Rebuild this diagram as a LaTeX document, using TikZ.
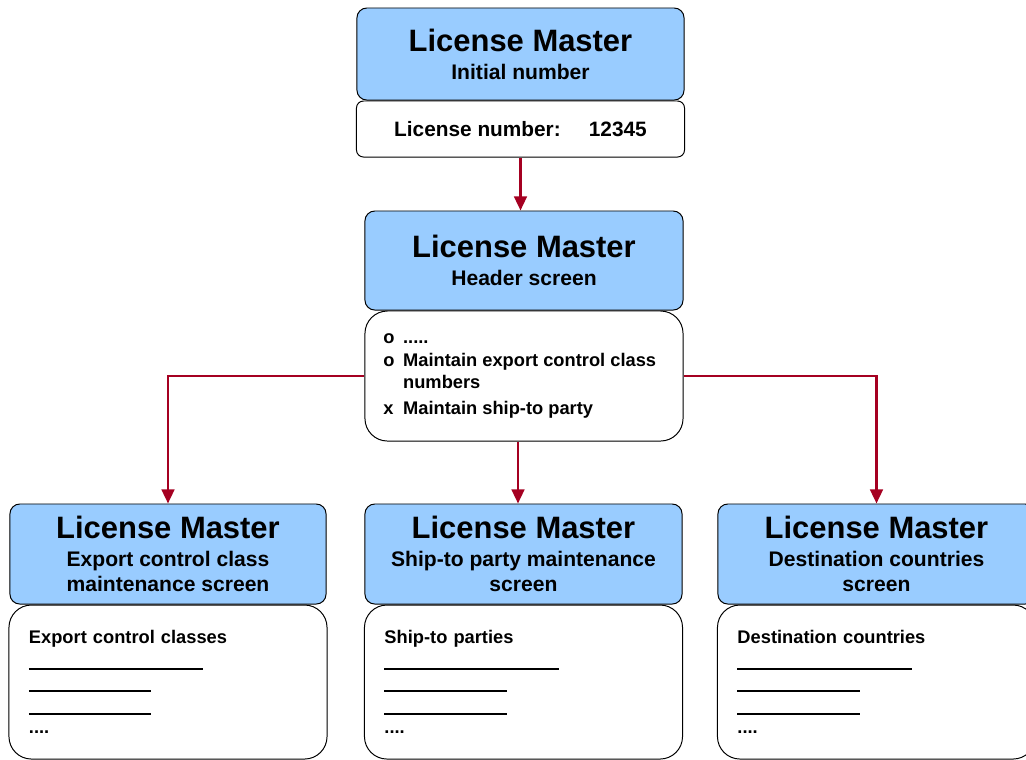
\documentclass[tikz,border=0pt]{standalone}
\usepackage{fontspec}
\setmainfont{Liberation Sans}
\usetikzlibrary{shapes,arrows.meta,positioning,calc}
\definecolor{screenblue}{RGB}{153,204,255}
\definecolor{linkred}{RGB}{165,0,33}
\tikzstyle{screen} = [rectangle, rounded corners=7pt, draw=black, line width=0.7pt, fill=screenblue, align=center, inner sep=0pt, font=\bfseries\fontsize{15}{18}\selectfont]
\tikzstyle{field} = [rectangle, rounded corners=5pt, draw=black, line width=0.7pt, fill=white, inner sep=0pt, font=\bfseries\fontsize{14.8}{17}\selectfont]
\tikzstyle{menu} = [rectangle, rounded corners=16pt, draw=black, line width=0.7pt, fill=white, align=left, inner sep=0pt, font=\bfseries\fontsize{13}{16}\selectfont]
\tikzstyle{list} = [rectangle, rounded corners=16pt, draw=black, line width=0.7pt, fill=white, align=left, text width=6.95cm, inner xsep=0.5cm, inner ysep=0pt, minimum width=7.95cm, minimum height=3.85cm, font=\bfseries\fontsize{13}{16}\selectfont]
\tikzstyle{arrow} = [line width=1.8pt, color=linkred, -{Triangle[length=10pt,width=9pt]}]
\newcommand{\lmtitle}{{\fontsize{22}{22}\selectfont License Master}}
\newcommand{\itemmark}[1]{\makebox[14pt][l]{#1}}
\newcommand{\longrule}{\rule[-2.5pt]{124pt}{1.3pt}}
\newcommand{\shortrule}{\rule[-2.5pt]{87pt}{1.3pt}}

\begin{document}
\begin{tikzpicture}[x=0.025cm, y=-0.025cm]
\useasboundingbox (0,0) rectangle (1026,759);

% Initial number
\node [screen, minimum width=8.175cm, minimum height=2.3cm] (init) at (520.5,54) {\lmtitle\\[2pt] Initial number};
\node [field, minimum width=8.2cm, minimum height=1.4cm, below=0pt of init] (number) {License number:\hspace{20pt}12345};

% Header screen
\node [screen, minimum width=7.95cm, minimum height=2.475cm] (header) at (524,260.5) {\lmtitle\\[2pt] Header screen};
\node [menu, minimum width=7.95cm, minimum height=3.25cm, below=0pt of header] (options) {\hspace*{-6pt}\itemmark{o}.....\\ \hspace*{-6pt}\itemmark{o}Maintain export control class\\ \hspace*{-6pt}\itemmark{}numbers\\[2pt] \hspace*{-6pt}\itemmark{x}Maintain ship-to party};

% Maintenance screens
\node [screen, minimum width=7.9cm, minimum height=2.5cm] (ecBlue) at (168,554) {\lmtitle\\[2pt] Export control class\\ maintenance screen};
\node [list, below=0pt of ecBlue] (ecList) {Export control classes\\ \longrule\\ \shortrule\\ \shortrule\\ ....};

\node [screen, minimum width=7.925cm, minimum height=2.5cm] (stBlue) at (523.5,554) {\lmtitle\\[2pt] Ship-to party maintenance\\ screen};
\node [list, below=0pt of stBlue] (stList) {Ship-to parties\\ \longrule\\ \shortrule\\ \shortrule\\ ....};

\node [screen, minimum width=7.925cm, minimum height=2.5cm] (dcBlue) at (876.5,554) {\lmtitle\\[2pt] Destination countries\\ screen};
\node [list, below=0pt of dcBlue] (dcList) {Destination countries\\ \longrule\\ \shortrule\\ \shortrule\\ ....};

% Arrows
\draw [arrow] (number) -- (number |- header.north);
\draw [arrow] (options) -| (ecBlue);
\draw [arrow] ([xshift=-0.15cm]options.south) -- ([xshift=-0.15cm]options.south |- stBlue.north);
\draw [arrow] (options) -| (dcBlue);

\end{tikzpicture}
\end{document}
